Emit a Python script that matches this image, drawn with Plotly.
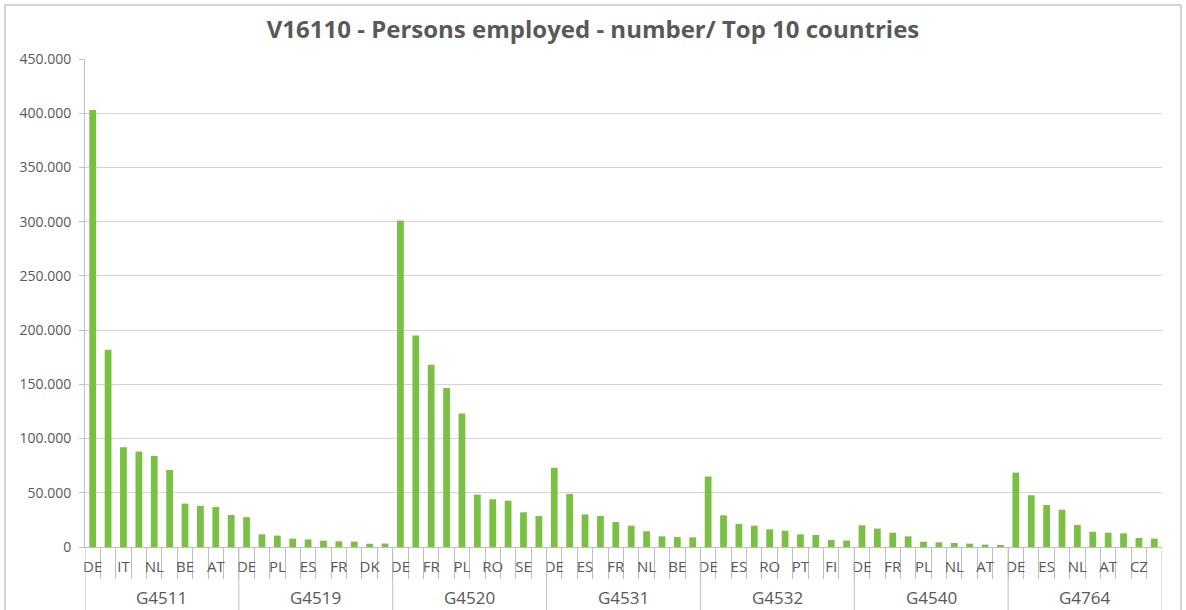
import plotly.graph_objects as go

# ---- data (persons employed) ----
groups = ["G4511", "G4519", "G4520", "G4531", "G4532", "G4540", "G4764"]

countries_g4511 = ["DE", "FR", "IT", "ES", "NL", "PL", "BE", "SE", "AT", "PT"]
values_g4511 = [403000, 182000, 92000, 88000, 84000, 71000, 40000, 38000, 37000, 29500]

countries_g4519 = ["DE", "IT", "PL", "NL", "ES", "CZ", "FR", "BE", "DK", "SE"]
values_g4519 = [27500, 11700, 10500, 7700, 7000, 5800, 5200, 5000, 3000, 3200]

countries_g4520 = ["DE", "IT", "FR", "ES", "PL", "NL", "RO", "CZ", "SE", "PT"]
values_g4520 = [301000, 195000, 168000, 146600, 123000, 48300, 44000, 42700, 32000, 28600]

countries_g4531 = ["DE", "IT", "ES", "PL", "FR", "CZ", "NL", "SE", "BE", "AT"]
values_g4531 = [73000, 49000, 30000, 28600, 23000, 19700, 14500, 9800, 9200, 8900]

countries_g4532 = ["DE", "IT", "ES", "PL", "RO", "CZ", "PT", "SE", "FI", "HU"]
values_g4532 = [65000, 29200, 21200, 19700, 16300, 15000, 11700, 11000, 6500, 5900]

countries_g4540 = ["DE", "IT", "FR", "ES", "PL", "CZ", "NL", "BE", "AT", "SE"]
values_g4540 = [20000, 17000, 13200, 9800, 4900, 4300, 3700, 3100, 2200, 1500]

countries_g4764 = ["DE", "FR", "ES", "IT", "NL", "PL", "AT", "SE", "CZ", "BE"]
values_g4764 = [68600, 47700, 38700, 34400, 20300, 14100, 13200, 12600, 8300, 7700]

country_lists = [countries_g4511, countries_g4519, countries_g4520, countries_g4531,
                 countries_g4532, countries_g4540, countries_g4764]
value_lists = [values_g4511, values_g4519, values_g4520, values_g4531,
               values_g4532, values_g4540, values_g4764]

y_ticks = [0, 50000, 100000, 150000, 200000, 250000, 300000, 350000, 400000, 450000]

# ---- build flat series ----
xs, ys, labels, hover = [], [], [], []
group_centers, boundaries = [], [-0.5]
idx = 0
for g, cs, vs in zip(groups, country_lists, value_lists):
    start = idx
    for j, (c, v) in enumerate(zip(cs, vs)):
        xs.append(idx)
        ys.append(v)
        labels.append(c if j % 2 == 0 else "")  # Excel shows every 2nd label
        hover.append(f"{g} {c}")
        idx += 1
    group_centers.append((start + idx - 1) / 2)
    boundaries.append(idx - 0.5)

GRAY = "#595959"
LINE = "#bfbfbf"
FONT = "Open Sans"

fig = go.Figure(go.Bar(
    x=xs, y=ys, marker=dict(color="#7AC143", line=dict(width=0)),
    hovertext=hover, hoverinfo="text+y",
))

fig.update_layout(
    width=1186, height=610,
    margin=dict(l=85, r=24, t=59, b=63),
    paper_bgcolor="white", plot_bgcolor="white",
    separators=",.",
    bargap=0.56,
    showlegend=False,
    font=dict(family=FONT, color=GRAY),
    title=dict(text="<b>V16110 - Persons employed - number/ Top 10 countries</b>",
               x=0.5, xanchor="center", y=1 - 30 / 610, yanchor="middle",
               font=dict(size=24, color=GRAY, family=FONT)),
)

fig.update_yaxes(
    range=[0, 450000], tickmode="array", tickvals=y_ticks, tickformat=",",
    showgrid=True, gridcolor="#d4d4d4", gridwidth=1,
    showline=True, linecolor=LINE, linewidth=1,
    ticks="outside", ticklen=5, tickcolor=LINE,
    tickfont=dict(size=14, color=GRAY, family=FONT),
    ticklabelstandoff=5, zeroline=False,
)

fig.update_xaxes(
    range=[-0.5, len(xs) - 0.5], tickmode="array", tickvals=xs, ticktext=labels,
    tickangle=0, ticks="", showgrid=False, zeroline=False,
    showline=True, linecolor=LINE, linewidth=1,
    tickfont=dict(size=15, color=GRAY, family=FONT),
    ticklabelstandoff=6,
    minor=dict(ticks="outside", ticklen=31, tickcolor=LINE, tickwidth=1,
               tickmode="array", tickvals=[x + 0.5 for x in xs[:-1]], showgrid=False),
)

# group separators in the label area
for b in boundaries:
    fig.add_shape(type="line", xref="x", yref="paper", x0=b, x1=b, y0=0, y1=-0.14,
                  line=dict(color=LINE, width=1))

# group labels
for g, c in zip(groups, group_centers):
    fig.add_annotation(x=c, y=-0.103, xref="x", yref="paper", text=g, showarrow=False,
                       yanchor="middle", font=dict(size=17, color=GRAY, family=FONT))

# chart border
fig.add_shape(type="rect", xref="paper", yref="paper",
              x0=(5 - 85) / 1077, x1=(1181 - 85) / 1077,
              y0=-0.15, y1=(547 - 5) / 488,
              line=dict(color="#a6a6a6", width=1), layer="below")

fig.write_html("out.html", config={"displayModeBar": False},
               post_script="document.body.style.margin='0';document.body.style.overflow='hidden';")
